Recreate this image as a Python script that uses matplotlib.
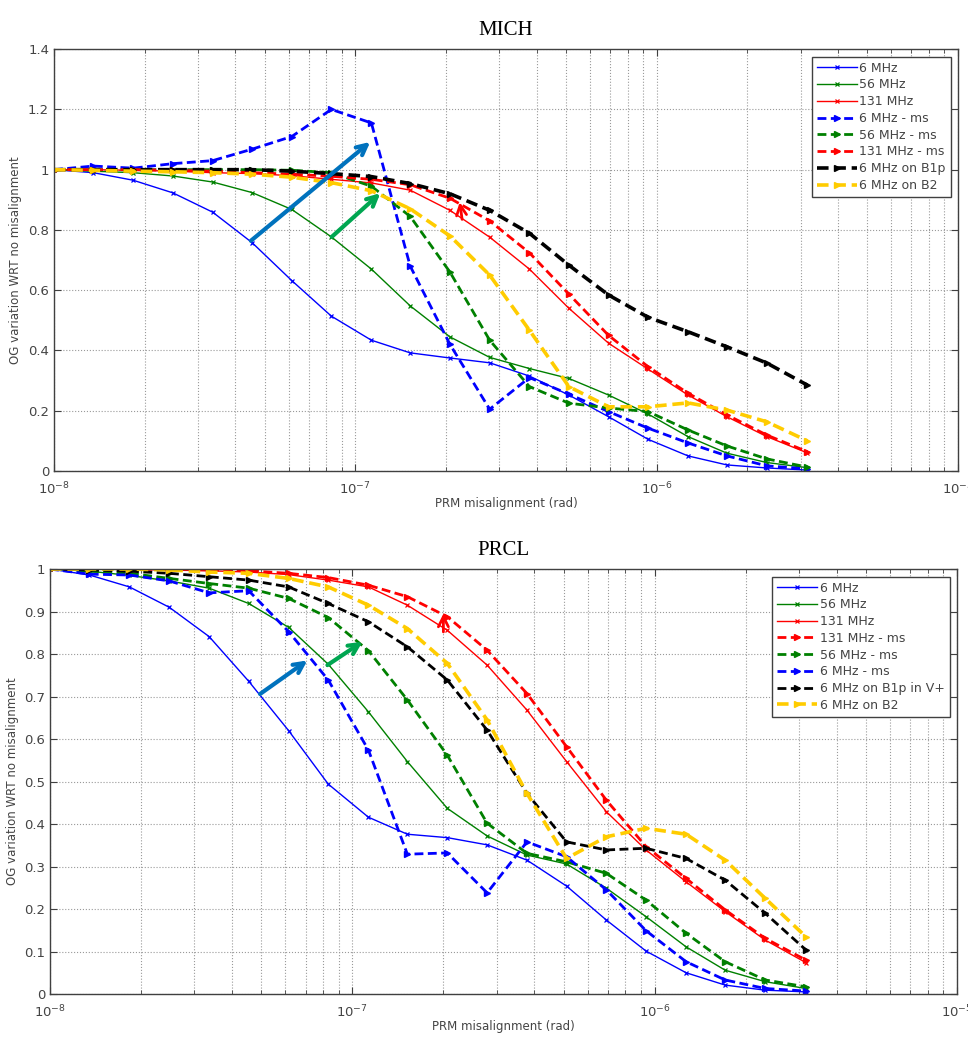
import matplotlib
matplotlib.use("Agg")
import matplotlib.pyplot as plt
from matplotlib.ticker import FuncFormatter, LogLocator
import numpy as np

# PRM misalignment points (rad)
x = [1.00e-8, 1.35e-8, 1.83e-8, 2.48e-8, 3.36e-8, 4.54e-8, 6.15e-8, 8.32e-8,
     1.13e-7, 1.52e-7, 2.06e-7, 2.79e-7, 3.78e-7, 5.11e-7, 6.92e-7, 9.36e-7,
     1.27e-6, 1.71e-6, 2.32e-6, 3.16e-6]

# MICH
mich_6 = [1.0, 0.99, 0.965, 0.923, 0.859, 0.758, 0.632, 0.514, 0.434, 0.392,
          0.375, 0.359, 0.315, 0.252, 0.18, 0.105, 0.05, 0.02, 0.01, 0.003]
mich_56 = [1.0, 0.995, 0.99, 0.979, 0.959, 0.924, 0.868, 0.777, 0.67, 0.548,
           0.445, 0.377, 0.34, 0.307, 0.252, 0.189, 0.114, 0.059, 0.028, 0.011]
mich_131 = [1.0, 1.0, 0.998, 0.995, 0.99, 0.987, 0.98, 0.968, 0.956, 0.932,
            0.865, 0.776, 0.67, 0.54, 0.424, 0.338, 0.252, 0.18, 0.114, 0.06]
mich_6ms = [1.0, 1.012, 1.005, 1.02, 1.03, 1.068, 1.11, 1.2, 1.155, 0.68,
            0.42, 0.205, 0.31, 0.255, 0.197, 0.142, 0.093, 0.05, 0.017, 0.007]
mich_56ms = [1.0, 1.0, 1.0, 1.0, 1.0, 1.0, 0.998, 0.99, 0.945, 0.845,
             0.66, 0.434, 0.28, 0.225, 0.209, 0.197, 0.136, 0.083, 0.04, 0.013]
mich_131ms = [1.0, 1.0, 1.0, 0.998, 0.995, 0.99, 0.985, 0.978, 0.968, 0.95,
              0.905, 0.83, 0.724, 0.587, 0.45, 0.346, 0.258, 0.186, 0.119, 0.064]
mich_b1p = [1.0, 1.0, 1.0, 1.0, 1.0, 1.0, 0.995, 0.987, 0.977, 0.954,
            0.92, 0.865, 0.789, 0.683, 0.584, 0.51, 0.462, 0.412, 0.358, 0.285]
mich_b2 = [1.0, 0.998, 0.995, 0.993, 0.99, 0.985, 0.975, 0.957, 0.93, 0.87,
           0.78, 0.65, 0.467, 0.28, 0.213, 0.213, 0.226, 0.202, 0.163, 0.1]

# PRCL
prcl_6 = [1.0, 0.986, 0.958, 0.91, 0.841, 0.736, 0.62, 0.494, 0.416, 0.376,
          0.368, 0.351, 0.315, 0.254, 0.174, 0.101, 0.05, 0.021, 0.009, 0.005]
prcl_56 = [1.0, 0.995, 0.985, 0.972, 0.955, 0.919, 0.863, 0.776, 0.664, 0.547,
           0.437, 0.372, 0.327, 0.306, 0.249, 0.182, 0.111, 0.056, 0.029, 0.013]
prcl_131 = [1.0, 1.0, 0.999, 0.998, 0.996, 0.993, 0.987, 0.974, 0.958, 0.915,
            0.856, 0.774, 0.668, 0.547, 0.429, 0.339, 0.264, 0.194, 0.127, 0.074]
prcl_131ms = [1.0, 1.0, 1.0, 0.999, 0.998, 0.996, 0.99, 0.98, 0.962, 0.935,
              0.888, 0.809, 0.707, 0.582, 0.456, 0.347, 0.272, 0.198, 0.131, 0.08]
prcl_56ms = [1.0, 0.995, 0.99, 0.978, 0.966, 0.955, 0.931, 0.886, 0.808, 0.692,
             0.562, 0.402, 0.331, 0.311, 0.284, 0.221, 0.143, 0.076, 0.033, 0.017]
prcl_6ms = [1.0, 0.988, 0.986, 0.972, 0.944, 0.949, 0.853, 0.739, 0.574, 0.329,
            0.332, 0.238, 0.358, 0.323, 0.245, 0.149, 0.076, 0.033, 0.013, 0.007]
prcl_b1p = [1.0, 0.998, 0.995, 0.99, 0.982, 0.974, 0.958, 0.919, 0.876, 0.817,
            0.739, 0.621, 0.472, 0.358, 0.339, 0.343, 0.319, 0.268, 0.19, 0.104]
prcl_b2 = [1.0, 1.0, 1.0, 0.998, 0.993, 0.99, 0.978, 0.958, 0.915, 0.86,
           0.778, 0.645, 0.472, 0.319, 0.37, 0.39, 0.376, 0.315, 0.225, 0.135]

# arrows (tail, head) in data coords
mich_arrows = [((4.5e-8, 0.764), (1.12e-7, 1.092), '#0072BD', 3.0),
               ((8.35e-8, 0.777), (1.21e-7, 0.922), '#00A651', 3.0),
               ((2.26e-7, 0.835), (2.22e-7, 0.892), 'red', 2.0)]
prcl_arrows = [((4.95e-8, 0.706), (7.1e-8, 0.785), '#0072BD', 3.0),
               ((8.27e-8, 0.774), (1.08e-7, 0.829), '#00A651', 3.0),
               ((2.0e-7, 0.852), (2.0e-7, 0.895), 'red', 2.0)]

BLUE, GREEN, RED, BLACK, YELLOW = 'blue', '#008000', 'red', 'black', '#FFCC00'
GRAYTXT = '#444444'
DASH = (0, (3.2, 1.6))


def solid(ax, y, col, lab):
    ax.plot(x, y, color=col, lw=1.0, marker='x', ms=3.5, mew=0.9, label=lab)


def dashed(ax, y, col, lab, lw=2.0):
    ax.plot(x, y, color=col, lw=lw, linestyle=DASH, marker='>', ms=4,
            label=lab)


def style(ax, ymax, ystep):
    ax.set_xscale('log')
    ax.set_xlim(1e-8, 1e-5)
    ax.set_ylim(0, ymax)
    ax.set_yticks(np.arange(0, ymax + 1e-9, ystep))
    ax.yaxis.set_major_formatter(FuncFormatter(lambda v, p: '%g' % round(v, 2)))
    ax.xaxis.set_minor_locator(LogLocator(base=10, subs=np.arange(2, 10)))
    ax.grid(True, which='major', color='#9a9a9a', linestyle=':', lw=0.8)
    ax.grid(True, which='minor', axis='x', color='#9a9a9a', linestyle=':', lw=0.8)
    ax.tick_params(which='both', direction='in', top=True, right=True,
                   colors='#404040', labelcolor=GRAYTXT, labelsize=9.5)
    ax.tick_params(which='major', length=5)
    ax.tick_params(which='minor', length=3)
    ax.tick_params(axis='x', pad=7)
    for s in ax.spines.values():
        s.set_color('#404040')
        s.set_linewidth(1.0)
    ax.set_xlabel('PRM misalignment (rad)', color=GRAYTXT, fontsize=8.5,
                  labelpad=0)
    ax.set_ylabel('OG variation WRT no misalignment', color=GRAYTXT,
                  fontsize=8.5)


def arrows(ax, arr):
    for tail, head, col, lw in arr:
        ax.annotate('', xy=head, xytext=tail,
                    arrowprops=dict(arrowstyle='->', color=col, lw=lw,
                                    mutation_scale=18, shrinkA=0, shrinkB=0))


def legend(ax):
    leg = ax.legend(loc='upper right', fontsize=9, handlelength=3.2,
                    fancybox=False, framealpha=1, edgecolor='#404040',
                    borderpad=0.4, labelspacing=0.3, handletextpad=0.2,
                    borderaxespad=0.6)
    for t in leg.get_texts():
        t.set_color(GRAYTXT)


fig = plt.figure(figsize=(9.68, 10.39), dpi=100)

# MICH
ax1 = fig.add_axes([0.0558, 0.5467, 0.934, 0.406])
solid(ax1, mich_6, BLUE, '6 MHz')
solid(ax1, mich_56, GREEN, '56 MHz')
solid(ax1, mich_131, RED, '131 MHz')
dashed(ax1, mich_6ms, BLUE, '6 MHz - ms')
dashed(ax1, mich_56ms, GREEN, '56 MHz - ms')
dashed(ax1, mich_131ms, RED, '131 MHz - ms')
dashed(ax1, mich_b1p, BLACK, '6 MHz on B1p', lw=2.6)
dashed(ax1, mich_b2, YELLOW, '6 MHz on B2', lw=2.6)
arrows(ax1, mich_arrows)
style(ax1, 1.4, 0.2)
ax1.set_title('MICH', family='Liberation Serif', fontsize=15, pad=10)
legend(ax1)

# PRCL
ax2 = fig.add_axes([0.0517, 0.0433, 0.937, 0.409])
solid(ax2, prcl_6, BLUE, '6 MHz')
solid(ax2, prcl_56, GREEN, '56 MHz')
solid(ax2, prcl_131, RED, '131 MHz')
dashed(ax2, prcl_131ms, RED, '131 MHz - ms')
dashed(ax2, prcl_56ms, GREEN, '56 MHz - ms')
dashed(ax2, prcl_6ms, BLUE, '6 MHz - ms')
dashed(ax2, prcl_b1p, BLACK, '6 MHz on B1p in V+', lw=2.0)
dashed(ax2, prcl_b2, YELLOW, '6 MHz on B2', lw=2.6)
arrows(ax2, prcl_arrows)
style(ax2, 1.0, 0.1)
ax2.set_title('PRCL', family='Liberation Serif', fontsize=15, pad=10)
legend(ax2)

fig.savefig('out.png', dpi=100)
